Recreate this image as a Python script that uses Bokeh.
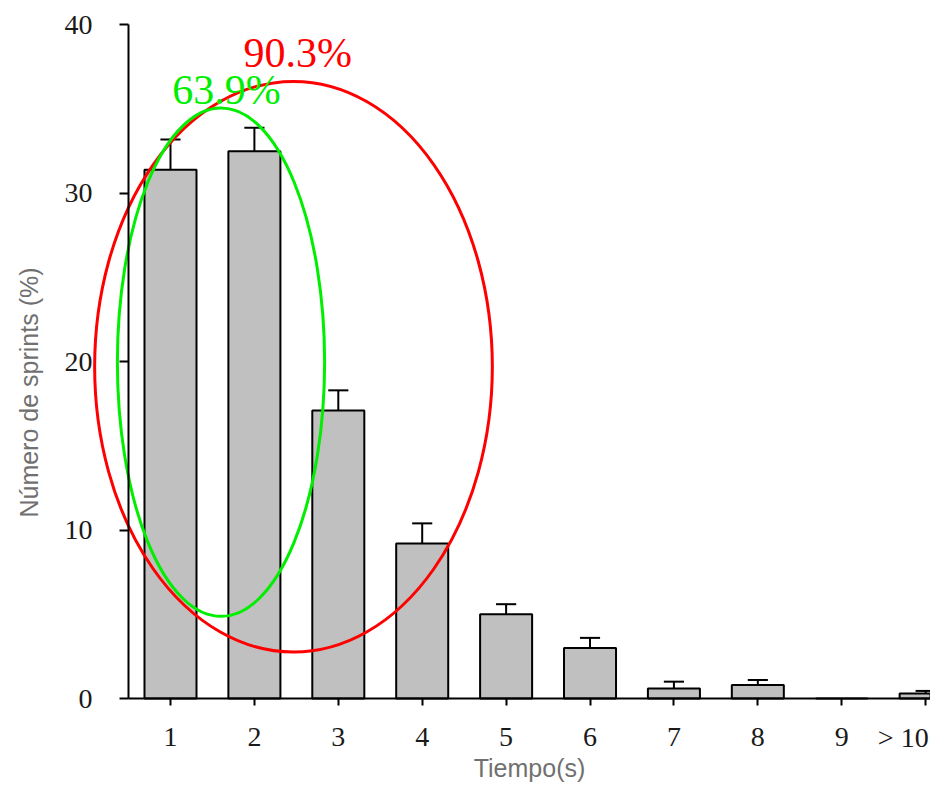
import math
from bokeh.plotting import figure
from bokeh.models import Range1d, FixedTicker, Label
from bokeh.core.properties import value
from bokeh.embed import file_html
from bokeh.resources import INLINE

# ---- data ----
categories = [1, 2, 3, 4, 5, 6, 7, 8, 9, 10]
tick_labels = ["1", "2", "3", "4", "5", "6", "7", "8", "9", "> 10"]
sprints_pct = [31.4, 32.5, 17.1, 9.2, 5.0, 3.0, 0.6, 0.8, 0.0, 0.3]
sprints_err = [1.8, 1.4, 1.2, 1.2, 0.6, 0.6, 0.4, 0.3, 0.0, 0.15]
y_ticks = [0, 10, 20, 30, 40]

# grouping annotations (ellipses) : centre x, centre y, width, height
red_group = dict(x=2.466, y=19.7, w=4.74, h=33.9, label="90.3%")
green_group = dict(x=1.602, y=19.97, w=2.47, h=30.2, label="63.9%")

RED = "#ff0000"
GREEN = "#00ee00"

p = figure(width=930, height=787, output_backend="svg", toolbar_location=None,
           x_range=Range1d(-1.026, 10.058), y_range=Range1d(-5.285, 41.45),
           min_border_left=0, min_border_right=0, min_border_top=0, min_border_bottom=0)
p.outline_line_color = None
p.xgrid.grid_line_color = None
p.ygrid.grid_line_color = None
p.background_fill_color = "white"

# bars
p.vbar(x=categories, top=sprints_pct, width=0.62, bottom=0,
       fill_color="#c0c0c0", line_color="black", line_width=2)

# error bars
upper = [v + e for v, e in zip(sprints_pct, sprints_err)]
ex, ev, eu = [], [], []
for c, v, u, e in zip(categories, sprints_pct, upper, sprints_err):
    if e > 0:
        ex.append(c); ev.append(v); eu.append(u)
p.segment(x0=ex, y0=ev, x1=ex, y1=eu, line_color="black", line_width=2)
p.segment(x0=[c - 0.12 for c in ex], y0=eu, x1=[c + 0.12 for c in ex], y1=eu,
          line_color="black", line_width=2)

# ellipses
p.ellipse(x=[red_group["x"]], y=[red_group["y"]], width=[red_group["w"]], height=[red_group["h"]],
          fill_color=None, line_color=RED, line_width=3)
p.ellipse(x=[green_group["x"]], y=[green_group["y"]], width=[green_group["w"]], height=[green_group["h"]],
          fill_color=None, line_color=GREEN, line_width=3)

p.text(x=[1.87], y=[38.33], text=[red_group["label"]], text_color=RED,
       text_font=value("Liberation Serif"), text_font_size="42px",
       text_align="left", text_baseline="middle")
p.text(x=[1.02], y=[36.13], text=[green_group["label"]], text_color=GREEN,
       text_font=value("Liberation Serif"), text_font_size="42px",
       text_align="left", text_baseline="middle")

# axes
xa = p.xaxis[0]
xa.fixed_location = 0
xa.ticker = FixedTicker(ticks=categories)
overrides = {c: t for c, t in zip(categories, tick_labels)}
overrides[10] = ""  # drawn below as a right-aligned label so it stays on the canvas
xa.major_label_overrides = overrides
xa.minor_tick_line_color = None
xa.major_tick_in = 0
xa.major_tick_out = 7
xa.major_tick_line_width = 2
xa.axis_line_width = 2
xa.bounds = (0.4994, 10.2)
xa.major_label_text_font = "Liberation Serif"
xa.major_label_text_font_size = "28px"
xa.major_label_text_color = "#1a1a1a"
xa.major_label_standoff = 22
xa.axis_label = "Tiempo(s)"
xa.axis_label_text_font = "Liberation Sans"
xa.axis_label_text_font_style = "normal"
xa.axis_label_text_font_size = "25px"
xa.axis_label_text_color = "#707070"
xa.axis_label_standoff = 5

p.add_layout(Label(x=categories[-1], y=0, text=tick_labels[-1], x_offset=3, y_offset=-39,
                   text_align="right", text_baseline="middle",
                   text_font="Liberation Serif", text_font_size="28px", text_color="#1a1a1a"))

ya = p.yaxis[0]
ya.fixed_location = 0.4994
ya.bounds = (0, 40)
ya.ticker = FixedTicker(ticks=y_ticks)
ya.minor_tick_line_color = None
ya.major_tick_in = 0
ya.major_tick_out = 9
ya.major_tick_line_width = 2
ya.axis_line_width = 2
ya.major_label_text_font = "Liberation Serif"
ya.major_label_text_font_size = "28px"
ya.major_label_text_color = "#1a1a1a"
ya.major_label_standoff = 27

p.add_layout(Label(x=-0.692, y=18.17, text="Número de sprints (%)", angle=math.pi / 2,
                   text_align="center", text_baseline="middle",
                   text_font="Liberation Sans", text_font_size="25px", text_color="#707070"))

open("out.html", "w").write(file_html(p, INLINE))
